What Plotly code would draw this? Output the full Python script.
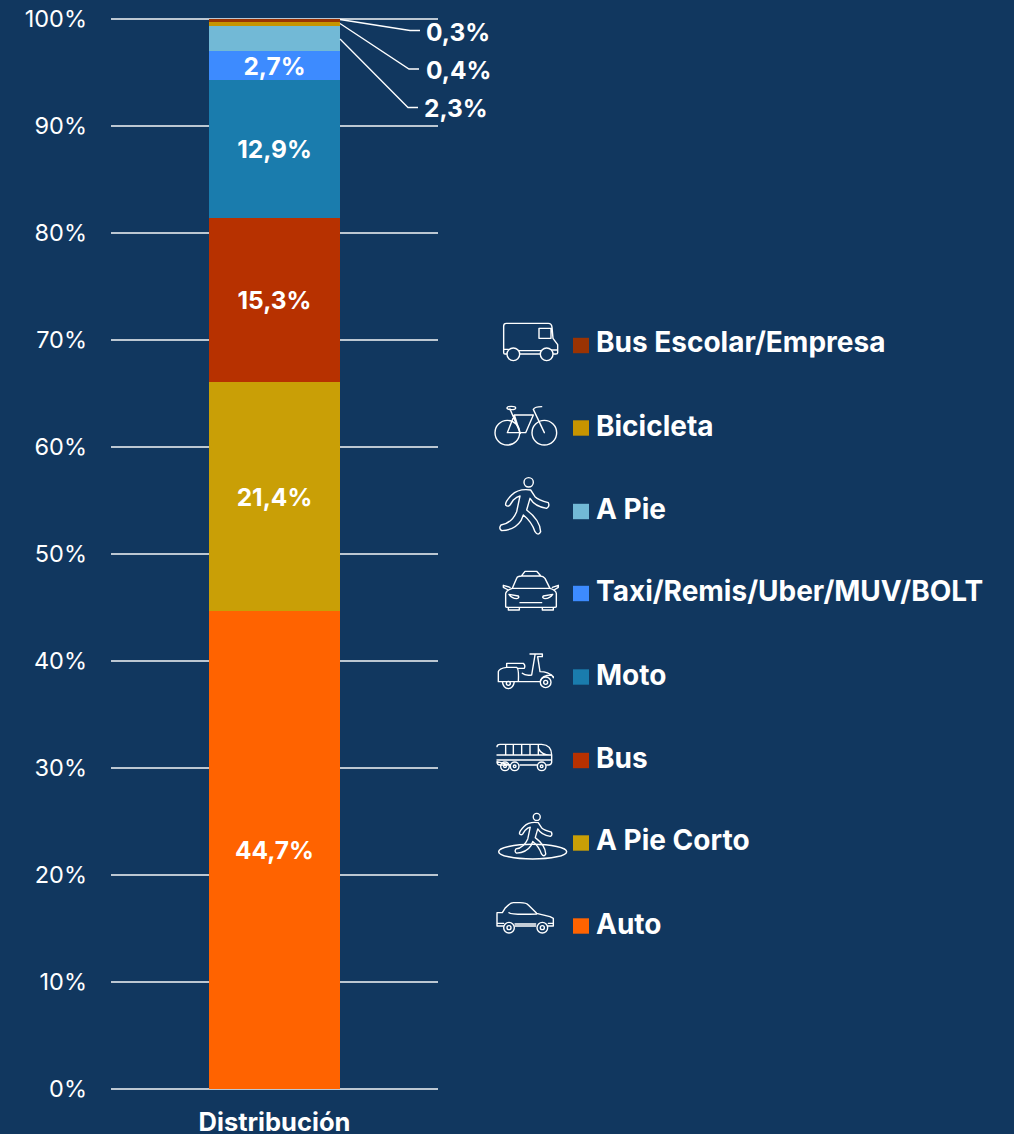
import base64
import plotly.graph_objects as go

CATEGORY = "Distribución"
MODES = ["Auto", "A Pie Corto", "Bus", "Moto", "Taxi/Remis/Uber/MUV/BOLT", "A Pie", "Bicicleta", "Bus Escolar/Empresa"]
SHARES = [44.7, 21.4, 15.3, 12.9, 2.7, 2.3, 0.4, 0.3]
COLORS = ["#FF6300", "#C99F06", "#B73100", "#1A7CAD", "#3D8BFF", "#72B9D6", "#C79400", "#9A3303"]
INSIDE_LABEL = [True, True, True, True, True, False, False, False]
BG = "#11375F"
GRID = "rgba(255,255,255,0.72)"

W, H = 1014, 1134
L, R, T, B = 111, 438, 19, 1089
def px(x): return (x - L) / (R - L)
def py(y): return (B - y) / (B - T)

fig = go.Figure()
for name, val, col, show in zip(MODES, SHARES, COLORS, INSIDE_LABEL):
    fig.add_trace(go.Bar(
        x=[CATEGORY], y=[val], name=name, marker=dict(color=col, line=dict(width=0)), width=0.4,
        texttemplate="%{y:.1f}%" if show else "", textposition="inside" if show else "none",
        insidetextanchor="middle", textangle=0, constraintext="none",
        insidetextfont=dict(family="Inter", size=24.5, color="white", weight=700),
        showlegend=False))

annotations, shapes = [], []
# axis-end gridlines, which Plotly leaves out at the range limits
for level in (0, 1):
    shapes.append(dict(type="line", xref="paper", yref="paper", x0=0, x1=1, y0=level, y1=level, layer="below",
                       line=dict(color=GRID, width=2)))
# leader lines and outside labels
LEADERS = [
    ("0,3%", [(340, 19.5), (410, 30.5), (420, 30.5)], 458, 32),
    ("0,4%", [(340, 23.5), (409, 69), (419, 69)], 458, 70),
    ("2,3%", [(340, 39), (408, 107.5), (418, 107.5)], 456, 108),
]
for text, pts, tx, ty in LEADERS:
    d = "M" + " L".join(f"{px(a):.5f},{py(b):.5f}" for a, b in pts)
    shapes.append(dict(type="path", path=d, xref="paper", yref="paper", line=dict(color="white", width=1.3)))
    annotations.append(dict(text=text, x=px(tx), y=py(ty), xref="paper", yref="paper", showarrow=False,
                            xanchor="center", yanchor="middle",
                            font=dict(family="Inter", size=24.5, color="white", weight=700)))

# manual legend
LEGEND_TEXT_Y = dict(zip(MODES, [924, 840, 758, 675, 591, 509, 426, 342]))
LEGEND_BOX_Y = dict(zip(MODES, [926, 843, 760.5, 677, 593.5, 511.5, 428, 345.5]))
for name, col in zip(MODES, COLORS):
    yc = LEGEND_BOX_Y[name]
    shapes.append(dict(type="rect", xref="paper", yref="paper", x0=px(573), x1=px(589), y0=py(yc - 7.7), y1=py(yc + 7.7),
                       fillcolor=col, line=dict(width=0)))
    annotations.append(dict(text=name, x=px(594), y=py(LEGEND_TEXT_Y[name]), xref="paper", yref="paper", showarrow=False,
                            xanchor="left", yanchor="middle",
                            font=dict(family="Inter", size=28, color="white", weight=700)))

RUNNER = ('<circle cx="131" cy="517" r="14"/><path d="M137,540 Q100,535 80,555 Q60,575 62,585 Q68,592 75,585 L85,570 Q95,560 105,558 '
          'L95,605 Q80,640 48,645 Q40,655 50,662 Q90,660 108,632 L115,615 Q140,635 150,665 Q160,680 167,665 Q165,630 125,600 L135,565 '
          'Q150,590 185,595 Q195,590 190,578 Q160,570 150,560 Z"/>')
ICONS_TOP = ('<path d="M56,128 V48 Q56,40 64,40 H190 Q200,40 201,52 L204,85 L218,104 V128 Q218,132 212,132 H205 M165,132 H105 M65,132 H60 Q56,132 56,128 '
             'M56,118 H70 M100,122 H170 M200,120 H218 M162,55 H198 V85 H162 Z"/><circle cx="85" cy="133" r="19"/><circle cx="185" cy="133" r="19"/>'
             '<circle cx="67" cy="368" r="37"/><circle cx="178" cy="368" r="37"/>'
             '<path d="M67,368 L88,315 H145 L122,368 Z M88,315 L105,368 M75,297 L106,370 M145,298 L178,368 M145,298 Q150,290 170,290"/><ellipse cx="79" cy="294" rx="13" ry="5"/>'
             + RUNNER +
             '<path d="M110,797 L120,784 H155 L167,797 M82,835 L95,805 Q97,798 110,798 H165 Q175,798 180,805 L195,835 Z '
             'M62,890 V850 Q65,840 82,835 H195 Q212,840 214,850 V890 Q214,892 205,892 H70 Q62,892 62,890 Z '
             'M75,832 L55,826 V832 L70,840 M202,832 L220,826 V832 L207,840 M72,853 L100,858 Q104,864 95,866 Q80,865 72,853 Z M203,853 L175,858 Q170,864 180,866 Q195,865 203,853 Z '
             'M105,878 H170 M70,892 V900 H103 V892 M172,892 V900 H205 V892"/>')
ICONS_BOTTOM = ('<path d="M40,155 V125 Q42,115 65,112 H95 Q102,115 100,155 Z M65,112 V100 H115 Q122,105 118,115 H97 M52,155 Q55,175 70,176 Q85,175 88,155 '
                'M100,155 H165 Q170,135 200,135 L205,143 M112,130 Q120,138 140,135 L150,75 M135,72 H172 V80 H158 L165,125 Q190,125 205,140"/>'
                '<circle cx="182" cy="157" r="16"/><circle cx="182" cy="157" r="6"/><circle cx="70" cy="160" r="6"/>'
                '<path d="M36,350 Q36,343 45,343 H170 Q200,345 200,375 V395 Q200,405 190,405 H185 M155,405 H105 M75,405 H45 Q36,405 36,395 Z '
                'M36,375 H200 M36,390 H200 M62,343 V375 M85,343 V375 M110,343 V375 M135,343 V375 M160,343 V375 M160,355 Q170,375 195,375"/>'
                '<circle cx="60" cy="409" r="13"/><circle cx="60" cy="409" r="4"/><circle cx="89" cy="409" r="13"/><circle cx="89" cy="409" r="4"/><circle cx="170" cy="409" r="13"/><circle cx="170" cy="409" r="4"/>'
                '<ellipse cx="143" cy="665" rx="102" ry="22" stroke-width="4.5"/><g transform="translate(57,173) scale(.75)" stroke-width="5.5">' + RUNNER + '</g>'
                '<path d="M36,850 V888 H55 M90,888 H152 M188,888 H205 V865 L195,860 L155,850 L130,825 Q125,818 105,818 H85 Q75,818 60,835 L52,848 H36 M72,848 Q80,855 155,852 M36,880 H56 M90,882 H152 M190,880 H205"/>'
                '<circle cx="72" cy="893" r="16"/><circle cx="72" cy="893" r="6"/><circle cx="172" cy="893" r="16"/><circle cx="172" cy="893" r="6"/>')

def svg_uri(body):
    svg = f'<svg xmlns="http://www.w3.org/2000/svg" width="600" height="960" viewBox="0 0 600 960"><g fill="none" stroke="white" stroke-width="4.2" stroke-linejoin="round" stroke-linecap="round">{body}</g></svg>'
    return "data:image/svg+xml;base64," + base64.b64encode(svg.encode()).decode()

images = []
for body, (ox, oy) in [(ICONS_TOP, (485, 310)), (ICONS_BOTTOM, (485, 630))]:
    images.append(dict(source=svg_uri(body), xref="paper", yref="paper", x=px(ox), y=py(oy),
                       sizex=200 / (R - L), sizey=320 / (B - T), xanchor="left", yanchor="top", sizing="stretch", layer="above"))

fig.update_layout(
    width=W, height=H, autosize=False,
    margin=dict(l=L, r=W - R, t=T, b=H - B, pad=0),
    paper_bgcolor=BG, plot_bgcolor=BG,
    barmode="stack", separators=", ", bargap=0,
    annotations=annotations, shapes=shapes, images=images,
    font=dict(family="Inter", color="white"),
    xaxis=dict(type="category", showgrid=False, showline=False, zeroline=False, ticks="", ticklabelstandoff=15, automargin=False,
               tickfont=dict(family="Inter", size=25.5, color="white", weight=700)),
    yaxis=dict(range=[0, 100], tick0=0, dtick=10, ticksuffix="%", showgrid=True, automargin=False,
               gridcolor=GRID, gridwidth=2, zeroline=False, showline=False, ticks="", ticklabelstandoff=23,
               tickfont=dict(family="Inter", size=23.5, color="white")),
)
fig.write_html("out.html", config=dict(displayModeBar=False),
               post_script=f"document.body.style.margin='0';document.body.style.background='{BG}';document.documentElement.style.overflow='hidden';")
